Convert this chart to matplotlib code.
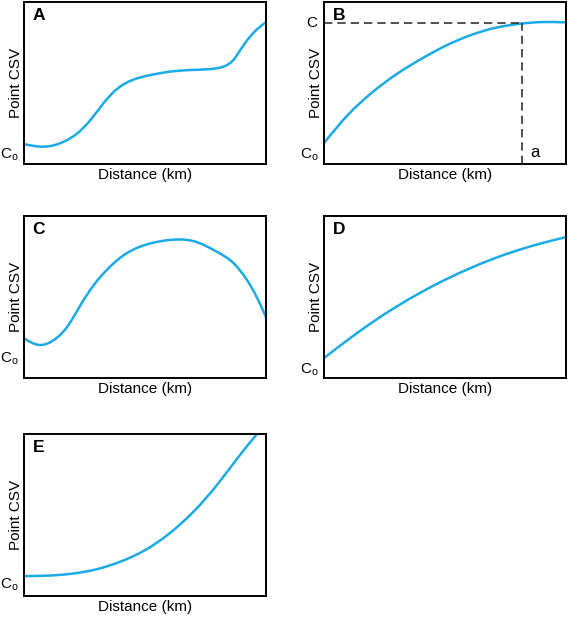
import matplotlib
matplotlib.use("Agg")
import matplotlib.pyplot as plt
import numpy as np
from matplotlib.path import Path
from matplotlib.patches import PathPatch

plt.rcParams['font.family'] = ['Liberation Sans', 'DejaVu Sans']
plt.rcParams['mathtext.fontset'] = 'custom'
plt.rcParams['mathtext.rm'] = 'Liberation Sans'

LINE_COLOR = "#1aaae8"

# curves, in fractions of each panel (distance, point CSV)
a_x = [0, 0.083, 0.165, 0.22, 0.275, 0.331, 0.386, 0.441, 0.522, 0.603, 0.686, 0.769, 0.824, 0.865, 0.899, 0.934, 0.968, 1.0]
a_y = [0.123, 0.107, 0.138, 0.189, 0.272, 0.380, 0.465, 0.514, 0.549, 0.570, 0.580, 0.586, 0.601, 0.642, 0.715, 0.786, 0.838, 0.875]

b_x = [0, 0.1, 0.2, 0.3, 0.4, 0.5, 0.6, 0.7, 0.8, 0.9, 1.0]
b_y = [0.13, 0.305, 0.443, 0.555, 0.647, 0.728, 0.792, 0.838, 0.864, 0.876, 0.874]
b_c = 0.870   # plateau C
b_a = 0.818   # distance a

c_x = [0, 0.062, 0.124, 0.179, 0.234, 0.289, 0.344, 0.413, 0.482, 0.537, 0.59, 0.645, 0.70, 0.796, 0.865, 0.92, 0.961, 1.0]
c_y = [0.245, 0.204, 0.235, 0.317, 0.451, 0.575, 0.670, 0.759, 0.812, 0.836, 0.850, 0.855, 0.845, 0.780, 0.710, 0.608, 0.502, 0.375]

d_x = [0, 0.1, 0.2, 0.3, 0.4, 0.5, 0.6, 0.7, 0.8, 0.9, 1.0]
d_y = [0.123, 0.237, 0.344, 0.441, 0.528, 0.606, 0.675, 0.736, 0.788, 0.832, 0.870]

e_x = [0, 0.1, 0.2, 0.3, 0.4, 0.5, 0.6, 0.7, 0.8, 0.9, 0.963]
e_y = [0.123, 0.126, 0.138, 0.165, 0.213, 0.283, 0.385, 0.52, 0.69, 0.885, 1.0]

co_y = {"A": 0.056, "B": 0.056, "C": 0.117, "D": 0.05, "E": 0.068}

W, H = 568, 617
fig = plt.figure(figsize=(W / 100, H / 100), dpi=100)


def smooth_path(xs, ys):
    # natural cubic spline through the read points, drawn as bezier segments
    x, y = np.asarray(xs, float), np.asarray(ys, float)
    n = len(x)
    h = np.diff(x)
    A = np.zeros((n, n))
    r = np.zeros(n)
    A[0, 0] = A[-1, -1] = 1
    for i in range(1, n - 1):
        A[i, i - 1], A[i, i], A[i, i + 1] = h[i - 1], 2 * (h[i - 1] + h[i]), h[i]
        r[i] = 6 * ((y[i + 1] - y[i]) / h[i] - (y[i] - y[i - 1]) / h[i - 1])
    M = np.linalg.solve(A, r)
    d = np.empty(n)
    d[:-1] = (y[1:] - y[:-1]) / h - h * (2 * M[:-1] + M[1:]) / 6
    d[-1] = (y[-1] - y[-2]) / h[-1] + h[-1] * (M[-2] + 2 * M[-1]) / 6
    verts, codes = [(x[0], y[0])], [Path.MOVETO]
    for i in range(n - 1):
        verts += [(x[i] + h[i] / 3, y[i] + h[i] / 3 * d[i]),
                  (x[i + 1] - h[i] / 3, y[i + 1] - h[i] / 3 * d[i + 1]),
                  (x[i + 1], y[i + 1])]
        codes += [Path.CURVE4] * 3
    return Path(verts, codes)


def make_ax(left, top, name):
    ax = fig.add_axes([left / W, 1 - (top + 162) / H, 242 / W, 162 / H])
    ax.set_xlim(0, 1)
    ax.set_ylim(0, 1)
    ax.set_xticks([])
    ax.set_yticks([])
    for s in ax.spines.values():
        s.set_linewidth(1.4)
    ax.text(0.035, 0.915, name, transform=ax.transAxes, fontsize=12.5, fontweight='bold', va='center', ha='left')
    ax.set_xlabel("Distance (km)", fontsize=11, labelpad=3)
    ax.set_ylabel("Point CSV", fontsize=11, labelpad=1)
    ax.text(-0.022, co_y[name], r"C$_\mathrm{o}$", transform=ax.transAxes, fontsize=11, ha='right', va='center')
    return ax


panels = [(24, 2, "A", a_x, a_y), (324, 2, "B", b_x, b_y), (24, 216, "C", c_x, c_y),
          (324, 216, "D", d_x, d_y), (24, 434, "E", e_x, e_y)]

axes = {}
for left, top, name, xs, ys in panels:
    ax = make_ax(left, top, name)
    ax.add_patch(PathPatch(smooth_path(xs, ys), facecolor='none', edgecolor=LINE_COLOR, lw=1.8))
    axes[name] = ax

axb = axes["B"]
axb.plot([0, b_a], [b_c, b_c], color='#333333', lw=1.2, ls=(0, (5, 3)))
axb.plot([b_a, b_a], [0, b_c], color='#333333', lw=1.2, ls=(0, (5, 3)))
axb.text(-0.028, b_c, "C", transform=axb.transAxes, fontsize=11, ha='right', va='center')
axb.text(b_a + 0.035, 0.07, "a", fontsize=12, ha='left', va='center')

fig.savefig("out.png", dpi=100)
